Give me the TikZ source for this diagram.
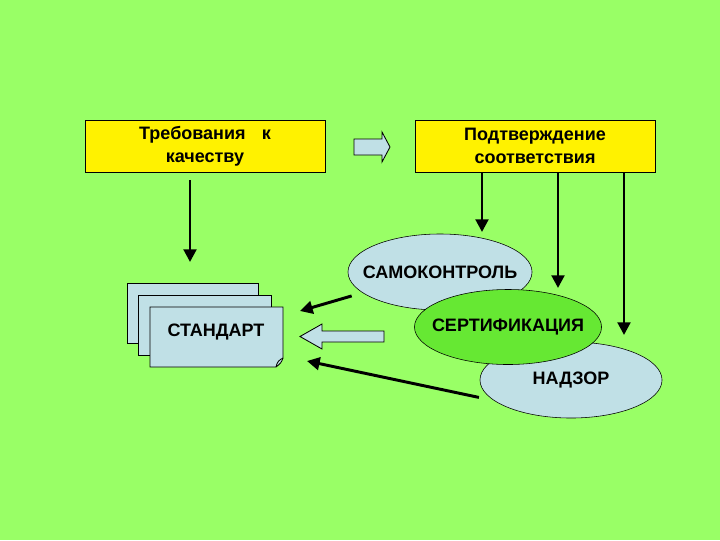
\documentclass[tikz,border=0pt]{standalone}
\usepackage{fontspec}
\setmainfont{Liberation Sans}
\usetikzlibrary{shapes.geometric,arrows.meta}

\definecolor{slidegreen}{RGB}{153,255,102}
\definecolor{certgreen}{RGB}{102,232,51}
\definecolor{paleblue}{RGB}{192,224,230}

\tikzset{
  box/.style={draw, fill=yellow, minimum width=6cm, minimum height=1.3cm, align=center, inner sep=0pt},
  oval/.style={draw, ellipse, fill=paleblue, inner sep=0pt, label=center:#1},
  conn/.style={line width=2.1pt, -{Triangle[length=9pt,width=9pt]}},
  fatarrow/.style={draw, fill=paleblue, line width=0.6pt},
  doc/.style={draw, fill=paleblue, line width=0.6pt}
}

\begin{document}
\begin{tikzpicture}[x=0.025cm, y=-0.025cm, font=\fontsize{12.8}{16.5}\selectfont\bfseries]

\fill[slidegreen] (0,0) rectangle (720,540);

\node[box] (req) at (205,146) {Требования\hspace{0.9em}к\\качеству};
\node[box] (conf) at (535,146) {Подтверждение\\соответствия};

\draw[fatarrow] (354,139) -- (382,139) -- (382,132) -- (390,147) -- (382,162) -- (382,155) -- (354,155) -- cycle;

\draw[doc] (127,283) rectangle (258,343);
\draw[doc] (138,295) rectangle (271,355);
\draw[doc] (150,307) -- (283,307) -- (283,358) .. controls (281,363) .. (276,367) -- (150,367) -- cycle;
\draw[line width=0.6pt] (276,367) .. controls (277,362) and (279,360) .. (283,358);
\node (std) at (216,332) {СТАНДАРТ};

\node[oval=САМОКОНТРОЛЬ, minimum width=4.6cm, minimum height=1.9cm] (self) at (440,272) {};
\node[oval=НАДЗОР, minimum width=4.55cm, minimum height=1.9cm] (sup) at (571,380) {};
\node[oval=СЕРТИФИКАЦИЯ, fill=certgreen, minimum width=4.675cm, minimum height=1.875cm] (cert) at (508,327) {};

\draw[fatarrow] (384,331) -- (322,331) -- (322,324) -- (300,336.5) -- (322,349) -- (322,342) -- (384,342) -- cycle;

\coordinate (q1) at (190,262);
\coordinate (a1) at (482,232);
\coordinate (a2) at (558,288);
\coordinate (a3) at (624,335);
\coordinate (d1) at (300,311);
\coordinate (d2) at (307,361);

\draw[conn, shorten <=5.5pt] (req.south -| q1) -- (q1);
\draw[conn] (conf.south -| a1) -- (a1);
\draw[conn] (conf.south -| a2) -- (a2);
\draw[conn] (conf.south -| a3) -- (a3);
\draw[conn, shorten <=8pt] (self.195) -- (d1);
\draw[conn, shorten <=11pt] (sup.195) -- (d2);

\end{tikzpicture}
\end{document}
